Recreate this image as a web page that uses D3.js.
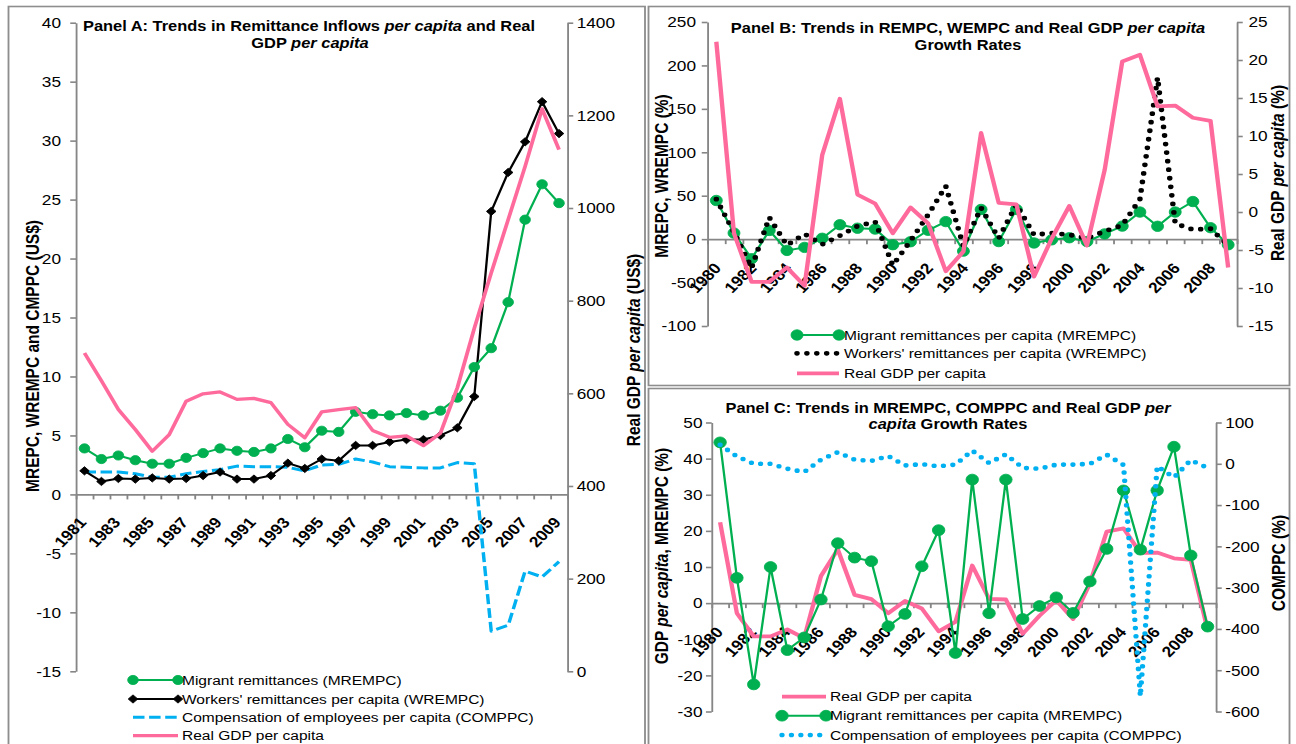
<!DOCTYPE html>
<html>
<head>
<meta charset="utf-8">
<script src="https://cdn.jsdelivr.net/npm/d3@7"></script>
<style>
  html, body { margin: 0; padding: 0; background: #fff; }
  svg { display: block; }
</style>
</head>
<body>
<svg id="chart" width="1296" height="744"></svg>
<script>
// ---------- data ----------
const yearsA = d3.range(1981, 2010);   // Panel A: levels
const yearsBC = d3.range(1980, 2010);  // Panels B and C: growth rates

// Panel A levels (US$ per capita)
const mrempcLevel = [3.9, 3.0, 3.3, 2.9, 2.6, 2.6, 3.1, 3.5, 3.9, 3.7, 3.6, 3.9, 4.7, 4.0, 5.4, 5.3, 7.0, 6.8, 6.7, 6.9, 6.7, 7.1, 8.2, 10.8, 12.4, 16.3, 23.3, 26.3, 24.7];
const wrempcLevel = [2.0, 1.1, 1.35, 1.3, 1.4, 1.3, 1.35, 1.6, 1.9, 1.3, 1.3, 1.6, 2.65, 2.2, 3.0, 2.85, 4.15, 4.15, 4.45, 4.65, 4.65, 5.0, 5.65, 8.3, 24.0, 27.3, 29.9, 33.3, 30.6];
const comppcLevel = [1.9, 1.9, 1.9, 1.75, 1.45, 1.45, 1.75, 1.95, 2.1, 2.4, 2.35, 2.35, 2.3, 2.0, 2.5, 2.55, 3.0, 2.75, 2.35, 2.3, 2.25, 2.25, 2.7, 2.6, -11.6, -11.1, -6.5, -7.0, -5.7];
const gdpLevel = [687, 627, 565, 522, 475, 511, 583, 599, 603, 587, 589, 580, 533, 504, 560, 565, 569, 520, 505, 508, 487, 514, 612, 740, 860, 975, 1090, 1214, 1126];

// Panels B and C growth rates (%)
const gdpGrowth = [22.4, -2.8, -9.2, -9.2, -7.3, -9.7, 7.5, 14.9, 2.3, 1.1, -2.8, 0.6, -1.5, -7.8, -5.2, 10.4, 1.2, 1.0, -8.5, -3.5, 0.8, -4.4, 5.5, 19.8, 20.7, 13.9, 14.0, 12.4, 12.0, -7.3];
const mrempcGrowth = [44.5, 7.0, -22.5, 10.0, -13.0, -9.5, 1.0, 16.6, 12.6, 11.6, -6.4, -3.0, 10.2, 20.2, -13.8, 34.2, -2.8, 34.2, -4.4, -0.8, 1.6, -2.7, 6.0, 15.0, 31.2, 14.8, 31.2, 43.3, 13.2, -6.5];
const wrempcGrowth = [46, 8, -33, 25, -7, 6, -6, 4, 15, 20, -30, -2, 28, 61, -8, 36, 1, 40, 5, 7, 5, 1, 9, 16, 46, 186, 18, 11, 12, -7];
const comppcGrowth = [46, 18, 0, 0, -12, -20, 10, 28, 10, 7, 19, -4, -1, -6, -2, 32, 2, 23, -10, -12, -2, -2, 0, 22, -3, -563, -6, -33, 9, -10];

// tick values and category labels
const ticksALeft = [-15, -10, -5, 0, 5, 10, 15, 20, 25, 30, 35, 40];
const ticksARight = [0, 200, 400, 600, 800, 1000, 1200, 1400];
const ticksBLeft = [-100, -50, 0, 50, 100, 150, 200, 250];
const ticksBRight = [-15, -10, -5, 0, 5, 10, 15, 20, 25];
const ticksCLeft = [-30, -20, -10, 0, 10, 20, 30, 40, 50];
const ticksCRight = [-600, -500, -400, -300, -200, -100, 0, 100];
const labelYearsA = yearsA.filter((d, i) => i % 2 === 0);
const labelYearsBC = yearsBC.filter((d, i) => i % 2 === 0);

// ---------- setup ----------
const SX = 1.15;                 // horizontal stretch of the whole drawing
const L = v => v / SX;           // page x -> drawing x
const LABEL_ANGLE = -Math.atan(SX) * 180 / Math.PI;   // shows as 45 degrees once stretched
const FONT = '"Liberation Sans", Arial, Helvetica, sans-serif';
const COL = {
  green: "#00b050", black: "#000000", blue: "#00b0f0", pink: "#ff6a9d",
  axis: "#868686", frame: "#8e8e8e"
};

const svg = d3.select("#chart");
const root = svg.append("g").attr("transform", `scale(${SX},1)`);

// panel frames
function frame(x0, y0, x1, y1) {
  root.append("rect")
    .attr("x", L(x0)).attr("y", y0)
    .attr("width", L(x1 - x0)).attr("height", y1 - y0)
    .attr("fill", "none").attr("stroke", COL.frame).attr("stroke-width", 1.6);
}
frame(8.5, 6.5, 645, 760);
frame(648.5, 6.5, 1289.5, 385.5);
frame(648.5, 388.5, 1289.5, 760);

// ---------- helpers ----------
function styleAxis(sel) {
  sel.attr("font-size", null).attr("font-family", null);
  sel.select(".domain").attr("stroke", COL.axis).attr("stroke-width", 1.6);
  sel.selectAll(".tick line").attr("stroke", COL.axis).attr("stroke-width", 1.6);
}

function yAxis(g, scale, values, side, x, pad) {
  const ax = (side === "left" ? d3.axisLeft(scale) : d3.axisRight(scale))
    .tickValues(values).tickSize(5).tickSizeOuter(0).tickPadding(pad)
    .tickFormat(d => String(d));
  const s = g.append("g").attr("transform", `translate(${L(x)},0)`).call(ax);
  styleAxis(s);
  s.selectAll(".tick text")
    .attr("font-family", FONT).attr("font-size", 15).attr("fill", "#000");
}

function xAxis(g, band, yPos, labelValues, dx, dy) {
  const n = band.domain().length;
  const idx = d3.scaleLinear().domain([0, n]).range(band.range());
  const tk = g.append("g").attr("transform", `translate(0,${yPos})`)
    .call(d3.axisBottom(idx).tickValues(d3.range(n + 1)).tickSize(5).tickSizeOuter(0).tickFormat(""));
  styleAxis(tk);
  const lb = g.append("g").attr("transform", `translate(0,${yPos})`)
    .call(d3.axisBottom(band).tickValues(labelValues).tickSize(0).tickFormat(d => String(d)));
  lb.attr("font-size", null).attr("font-family", null);
  lb.select(".domain").remove();
  lb.selectAll(".tick text")
    .attr("y", 0).attr("dy", null)
    .attr("dominant-baseline", "central")
    .attr("text-anchor", "end")
    .attr("transform", `translate(${L(dx)},${dy}) rotate(${LABEL_ANGLE})`)
    .attr("font-family", FONT).attr("font-size", 15).attr("font-weight", "bold")
    .attr("fill", "#000");
}

function marker(g, cx, cy, st) {
  if (st.marker === "circle") {
    g.append("circle").attr("cx", cx).attr("cy", cy).attr("r", st.r)
      .attr("fill", st.stroke).attr("stroke", st.stroke).attr("stroke-width", 0.8);
  } else if (st.marker === "diamond") {
    g.append("path").attr("d", d3.symbol(d3.symbolSquare, st.size)())
      .attr("transform", `translate(${cx},${cy}) rotate(45)`)
      .attr("fill", st.stroke).attr("stroke", st.stroke).attr("stroke-width", 0.8);
  }
}

function series(g, band, y, years, vals, st) {
  const data = years.map((yr, i) => ({ yr, v: vals[i] }));
  const cx = d => band(d.yr) + band.bandwidth() / 2;
  const p = g.append("path").datum(data)
    .attr("d", d3.line().x(cx).y(d => y(d.v)))
    .attr("fill", "none").attr("stroke", st.stroke).attr("stroke-width", st.width)
    .attr("stroke-linejoin", "round");
  if (st.dash) p.attr("stroke-dasharray", st.dash);
  if (st.cap) p.attr("stroke-linecap", st.cap);
  if (st.marker) data.forEach(d => marker(g, cx(d), y(d.v), st));
}

function legendRow(g, x0, x1, xt, y, st, label) {
  const ln = g.append("line")
    .attr("x1", L(x0)).attr("x2", L(x1)).attr("y1", y).attr("y2", y)
    .attr("stroke", st.stroke).attr("stroke-width", st.width);
  if (st.dash) ln.attr("stroke-dasharray", st.dash);
  if (st.cap) ln.attr("stroke-linecap", st.cap);
  if (st.marker) { marker(g, L(x0), y, st); marker(g, L(x1), y, st); }
  g.append("text").attr("x", L(xt)).attr("y", y)
    .attr("dominant-baseline", "central")
    .attr("font-family", FONT).attr("font-size", 13.5).attr("fill", "#000")
    .text(label);
}

// text made of plain and italic parts
function richText(g, parts, attrs) {
  const t = g.append("text").attr("font-family", FONT).attr("fill", "#000");
  Object.entries(attrs).forEach(([k, v]) => t.attr(k, v));
  parts.forEach(([s, it]) => {
    const ts = t.append("tspan").text(s);
    if (it) ts.attr("font-style", "italic");
  });
  return t;
}

function title(g, cx, y, parts) {
  richText(g, parts, { x: L(cx), y: y, "text-anchor": "middle", "font-size": 14.3, "font-weight": "bold" });
}

function axisTitle(g, cx, cy, parts) {
  richText(g, parts, {
    transform: `translate(${L(cx)},${cy}) rotate(-90)`,
    "text-anchor": "middle", "dominant-baseline": "central",
    "font-size": 15.5, "font-weight": "bold"
  });
}

// line styles
const stA = {
  mrempc: { stroke: COL.green, width: 2, marker: "circle", r: 4.6 },
  wrempc: { stroke: COL.black, width: 2, marker: "diamond", size: 34 },
  comppc: { stroke: COL.blue, width: 3, dash: "10,4" },
  gdp: { stroke: COL.pink, width: 3.3 }
};
const stB = {
  mrempc: { stroke: COL.green, width: 2, marker: "circle", r: 5.2 },
  wrempc: { stroke: COL.black, width: 4.8, dash: "0,8.6", cap: "round" },
  gdp: { stroke: COL.pink, width: 3.8 }
};
const stC = {
  gdp: { stroke: COL.pink, width: 3.8 },
  mrempc: { stroke: COL.green, width: 2, marker: "circle", r: 5.4 },
  comppc: { stroke: COL.blue, width: 4.6, dash: "0,8.2", cap: "round" }
};

// ---------- Panel A ----------
{
  const g = root.append("g");
  const x = d3.scaleBand().domain(yearsA).range([L(76), L(567.5)]);
  const yL = d3.scaleLinear().domain([-15, 40]).range([671.3, 22.7]);
  const yR = d3.scaleLinear().domain([0, 1400]).range([671.3, 22.7]);

  yAxis(g, yL, ticksALeft, "left", 76, 8);
  yAxis(g, yR, ticksARight, "right", 567.5, 3);
  xAxis(g, x, yL(0), labelYearsA, -2, 25);

  series(g, x, yL, yearsA, comppcLevel, stA.comppc);
  series(g, x, yL, yearsA, wrempcLevel, stA.wrempc);
  series(g, x, yL, yearsA, mrempcLevel, stA.mrempc);
  series(g, x, yR, yearsA, gdpLevel, stA.gdp);

  title(g, 309, 30.7, [["Panel A: Trends in Remittance Inflows ", false], ["per capita", true], [" and Real", false]]);
  title(g, 310, 48.3, [["GDP ", false], ["per capita", true]]);

  axisTitle(g, 33, 356, [["MREPC, WREMPC and CMPPC (US$)", false]]);
  axisTitle(g, 634, 350, [["Real GDP ", false], ["per capita", true], [" (US$)", false]]);

  legendRow(g, 133, 178, 182, 680, stA.mrempc, "Migrant remittances (MREMPC)");
  legendRow(g, 133, 178, 182, 699, stA.wrempc, "Workers' remittances per capita (WREMPC)");
  legendRow(g, 133, 178, 182, 717.3, stA.comppc, "Compensation of employees per capita (COMPPC)");
  legendRow(g, 133, 178, 182, 735.7, stA.gdp, "Real GDP per capita");
}

// ---------- Panel B ----------
{
  const g = root.append("g");
  const x = d3.scaleBand().domain(yearsBC).range([L(707.5), L(1237)]);
  const yL = d3.scaleLinear().domain([-100, 250]).range([326, 22]);
  const yR = d3.scaleLinear().domain([-15, 25]).range([326, 22]);

  yAxis(g, yL, ticksBLeft, "left", 707.5, 5);
  yAxis(g, yR, ticksBRight, "right", 1237, 5);
  xAxis(g, x, yL(0), labelYearsBC, 1, 26);

  series(g, x, yL, yearsBC, mrempcGrowth, stB.mrempc);
  series(g, x, yL, yearsBC, wrempcGrowth, stB.wrempc);
  series(g, x, yR, yearsBC, gdpGrowth, stB.gdp);

  title(g, 968, 33, [["Panel B: Trends in REMPC, WEMPC and Real GDP ", false], ["per capita", true]]);
  title(g, 968, 50, [["Growth Rates", false]]);

  axisTitle(g, 662, 176, [["MREPC, WREMPC (%)", false]]);
  axisTitle(g, 1278, 173, [["Real GDP ", false], ["per capita", true], [" (%)", false]]);

  legendRow(g, 797, 839, 844, 335, stB.mrempc, "Migrant remittances per capita (MREMPC)");
  legendRow(g, 797, 839, 844, 353.3, stB.wrempc, "Workers' remittances per capita (WREMPC)");
  legendRow(g, 797, 839, 844, 373.3, stB.gdp, "Real GDP per capita");
}

// ---------- Panel C ----------
{
  const g = root.append("g");
  const x = d3.scaleBand().domain(yearsBC).range([L(711.7), L(1216)]);
  const yL = d3.scaleLinear().domain([-30, 50]).range([711.5, 422.5]);
  const yR = d3.scaleLinear().domain([-600, 100]).range([711.5, 422.5]);

  yAxis(g, yL, ticksCLeft, "left", 711.7, 3);
  yAxis(g, yR, ticksCRight, "right", 1216, 3);
  xAxis(g, x, yL(0), labelYearsBC, -1, 26);

  series(g, x, yL, yearsBC, gdpGrowth, stC.gdp);
  series(g, x, yL, yearsBC, mrempcGrowth, stC.mrempc);
  series(g, x, yR, yearsBC, comppcGrowth, stC.comppc);

  title(g, 948, 413, [["Panel C: Trends in MREMPC, COMPPC and Real GDP ", false], ["per", true]]);
  title(g, 948, 429.5, [["capita", true], [" Growth Rates", false]]);

  axisTitle(g, 662, 556, [["GDP ", false], ["per capita", true], [", MREMPC (%)", false]]);
  axisTitle(g, 1279, 563, [["COMPPC (%)", false]]);

  legendRow(g, 782, 826, 830, 696.7, stC.gdp, "Real GDP per capita");
  legendRow(g, 782, 826, 830, 715.7, stC.mrempc, "Migrant remittances per capita (MREMPC)");
  legendRow(g, 782, 826, 830, 735, stC.comppc, "Compensation of employees per capita (COMPPC)");
}
</script>
</body>
</html>
